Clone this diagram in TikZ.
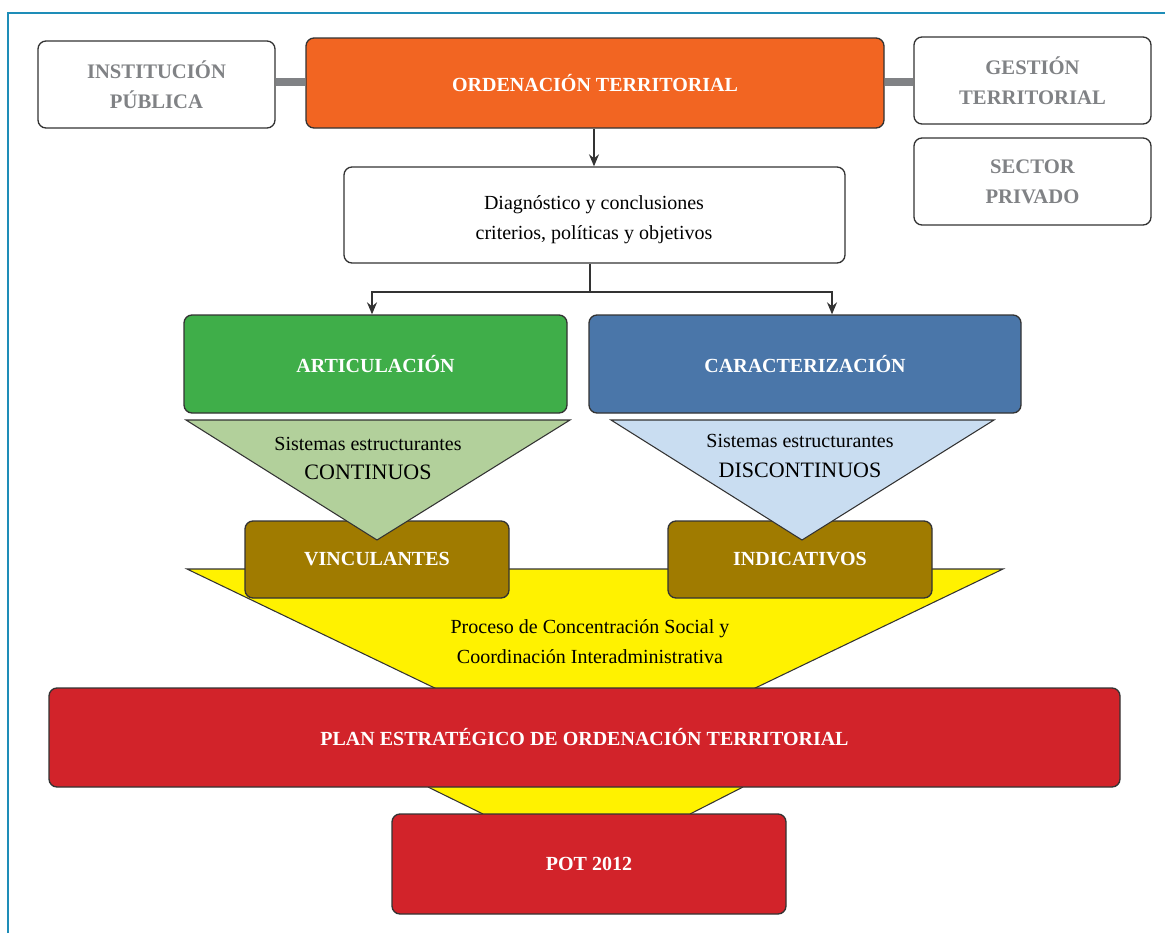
\documentclass[tikz,border=0pt]{standalone}
\usepackage{fontspec}
\setmainfont{Liberation Serif}
\usetikzlibrary{fit,arrows.meta}
\definecolor{cOrange}{HTML}{F26522}
\definecolor{cGreen}{HTML}{3FAE49}
\definecolor{cBlue}{HTML}{4A76A9}
\definecolor{cLGreen}{HTML}{B2D09B}
\definecolor{cLBlue}{HTML}{C9DDF1}
\definecolor{cOlive}{HTML}{A07B00}
\definecolor{cYellow}{HTML}{FFF200}
\definecolor{cRed}{HTML}{D2232A}
\definecolor{cGray}{HTML}{808285}
\definecolor{cFrame}{HTML}{1E8DB8}
\definecolor{cEdge}{HTML}{333333}
\tikzset{
  box/.style={draw=cEdge, line width=1pt, rounded corners=6pt, inner sep=0pt, align=center},
  greybox/.style={box, fill=white},
  colbox/.style={box},
  plainbox/.style={box, fill=white},
  greytext/.style={text=cGray, font=\fontsize{15.5}{22.5}\selectfont\bfseries, align=center},
  boldtext/.style={text=white, font=\fontsize{15}{22}\selectfont\bfseries},
  plaintext/.style={font=\fontsize{15}{22.5}\selectfont, align=center},
  bar/.style={draw=cGray, line width=6pt},
  link/.style={draw=cEdge, line width=1pt},
  arr/.style={link, -{Stealth[length=9pt,width=7.5pt]}},
  tri/.style={draw=cEdge, line width=0.8pt},
  frame/.style={draw=cFrame, line width=1.2pt},
}
\begin{document}
\begin{tikzpicture}[x=0.75pt,y=-0.75pt]
\useasboundingbox (0,0) rectangle (1165,933);
\draw[frame] (8,933) -- (8,13) -- (1165,13);

% top row
\node[greybox, fit={(38,41) (275,128)}] (inst) {};
\node[greytext] at (inst.center) {INSTITUCIÓN\\PÚBLICA};
\node[colbox, fill=cOrange, fit={(306,38) (884,128)}] (ord) {};
\node[boldtext] at (ord.center) {ORDENACIÓN TERRITORIAL};
\node[greybox, fit={(914,37) (1151,124)}] (gest) {};
\node[greytext] at (gest.center) {GESTIÓN\\TERRITORIAL};
\node[greybox, fit={(914,138) (1151,225)}] (priv) {};
\node[greytext] at (priv.center) {SECTOR\\PRIVADO};
\draw[bar] (inst.east |- 0,82) -- (ord.west |- 0,82);
\draw[bar] (ord.east |- 0,82) -- (gest.west |- 0,82);

% diagnostico
\node[plainbox, fit={(344,167) (845,263)}] (diag) {};
\node[plaintext] at (594,220) {Diagnóstico y conclusiones\\criterios, políticas y objetivos};
\draw[arr] (ord.south -| 594,0) -- (diag.north -| 594,0);

% yellow funnel
\coordinate (yA) at (187,569);
\coordinate (yB) at (1003,569);
\coordinate (yC) at (595,765);
\fill[cYellow] (yA) -- (yB) -- (yC) -- cycle;
\draw[tri] (yA) -- (yB) -- (yC) -- cycle;
\coordinate (zA) at (428,787);
\coordinate (zB) at (743,787);
\coordinate (zC) at (690,814);
\coordinate (zD) at (483,814);
\fill[cYellow] (zA) -- (zB) -- (zC) -- (zD) -- cycle;
\draw[tri] (zA) -- (zD);
\draw[tri] (zB) -- (zC);
\node[plaintext] (proc) at (590,642) {Proceso de Concentración Social y\\Coordinación Interadministrativa};

% second row
\node[colbox, fill=cGreen, fit={(184,315) (567,413)}] (art) {};
\node[boldtext] at (art.center) {ARTICULACIÓN};
\node[colbox, fill=cBlue, fit={(589,315) (1021,413)}] (car) {};
\node[boldtext] at (car.center) {CARACTERIZACIÓN};
\coordinate (split) at (590,292);
\draw[link] (diag.south -| split) -- (split);
\draw[arr] (split) -| (art.north -| 372,0);
\draw[arr] (split) -| (car.north -| 832,0);

% olive boxes
\node[colbox, fill=cOlive, fit={(245,521) (509,598)}] (vinc) {};
\node[boldtext] at (vinc.center) {VINCULANTES};
\node[colbox, fill=cOlive, fit={(668,521) (932,598)}] (indi) {};
\node[boldtext] at (indi.center) {INDICATIVOS};

% triangles
\coordinate (gA) at (186,420);
\coordinate (gB) at (570,420);
\coordinate (gC) at (377,540);
\draw[tri, fill=cLGreen] (gA) -- (gB) -- (gC) -- cycle;
\node[font=\fontsize{15}{17}\selectfont] (gt1) at (368,444) {Sistemas estructurantes};
\node[font=\fontsize{16.5}{18}\selectfont] (gt2) at (368,472) {CONTINUOS};
\coordinate (bA) at (611,420);
\coordinate (bB) at (994,420);
\coordinate (bC) at (802,540);
\draw[tri, fill=cLBlue] (bA) -- (bB) -- (bC) -- cycle;
\node[font=\fontsize{15}{17}\selectfont] (bt1) at (800,441) {Sistemas estructurantes};
\node[font=\fontsize{16.5}{18}\selectfont] (bt2) at (800,470) {DISCONTINUOS};

% red boxes
\node[colbox, fill=cRed, fit={(49,688) (1120,787)}] (plan) {};
\node[boldtext] at (plan.center) {PLAN ESTRATÉGICO DE ORDENACIÓN TERRITORIAL};
\node[colbox, fill=cRed, fit={(392,814) (786,914)}] (pot) {};
\node[boldtext] at (pot.center) {POT 2012};
\end{tikzpicture}
\end{document}
